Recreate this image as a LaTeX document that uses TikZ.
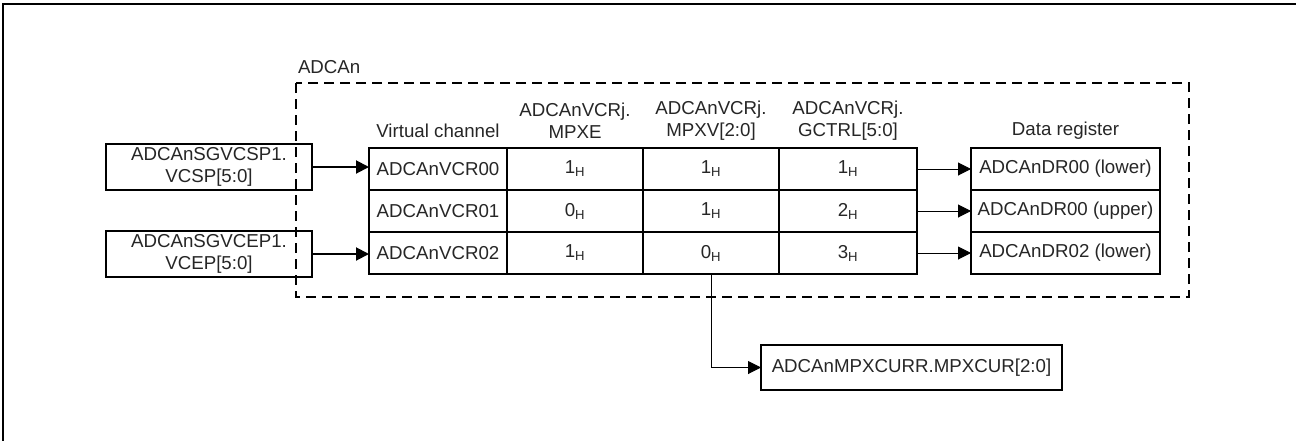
\documentclass[tikz,border=0pt]{standalone}
\usepackage{fontspec}
\setmainfont{Liberation Sans}
\usetikzlibrary{arrows.meta,calc}
\tikzset{
  every node/.style={font=\fontsize{18.7}{22}\selectfont, text=black!85, inner sep=0pt, outer sep=0pt},
  cell/.style={draw=black, line width=2pt, minimum height=42pt, align=center},
  srcbox/.style={draw=black, line width=2pt, minimum width=206pt, minimum height=46pt, align=center},
  hdr/.style={align=center},
  thinarrow/.style={line width=1pt, -{Triangle[length=13pt,width=13pt]}},
  thickarrow/.style={line width=2pt, -{Triangle[length=13pt,width=13pt]}},
  dashbox/.style={line width=2pt, dash pattern=on 10pt off 6pt},
}
\begin{document}
\begin{tikzpicture}[x=1pt,y=-1pt]
\useasboundingbox (0,0) rectangle (1296,440);
% outer frame (top and left edges)
\draw[line width=2.5pt] (3,442) -- (3,4) -- (1298,4);
% ADCAn block
\node[anchor=base west] (lbl) at (298,73) {ADCAn};
\draw[dashbox] (296,83) rectangle (1189,297);
% source boxes
\node[srcbox] (s1) at (209,167) {ADCAnSGVCSP1.\\VCSP[5:0]};
\node[srcbox] (s2) at (209,254) {ADCAnSGVCEP1.\\VCEP[5:0]};
% headers
\node[hdr] (h1) at (438,131) {Virtual channel};
\node[hdr] (h2) at (575,121) {ADCAnVCRj.\\MPXE};
\node[hdr] (h3) at (711,121) {ADCAnVCRj.\\MPXV[2:0]};
\node[hdr] (h4) at (848,121) {ADCAnVCRj.\\GCTRL[5:0]};
\node[hdr] (h5) at (1065.5,131) {Data register};
% table
\foreach \r/\y in {0/169,1/211,2/253}{
  \node[cell, minimum width=138pt] (v\r) at (438,\y) {};
  \node[cell, minimum width=136pt] (e\r) at (575,\y) {};
  \node[cell, minimum width=136pt] (p\r) at (711,\y) {};
  \node[cell, minimum width=138pt] (g\r) at (848,\y) {};
  \node[cell, minimum width=189pt] (d\r) at (1065.5,\y) {};
}
\node at (v0) {ADCAnVCR00};
\node at (v1) {ADCAnVCR01};
\node at (v2) {ADCAnVCR02};
\node at (e0) {1\textsubscript{H}};
\node at (e1) {0\textsubscript{H}};
\node at (e2) {1\textsubscript{H}};
\node at (p0) {1\textsubscript{H}};
\node at (p1) {1\textsubscript{H}};
\node at (p2) {0\textsubscript{H}};
\node at (g0) {1\textsubscript{H}};
\node at (g1) {2\textsubscript{H}};
\node at (g2) {3\textsubscript{H}};
\node at (d0) {ADCAnDR00 (lower)};
\node at (d1) {ADCAnDR00 (upper)};
\node at (d2) {ADCAnDR02 (lower)};
% MPX current box
\node[draw=black, line width=2pt, minimum width=301pt, minimum height=45pt] (m) at (911.5,367.5) {ADCAnMPXCURR.MPXCUR[2:0]};
% connectors
\draw[thickarrow] (s1.east) -- (s1.east -| v0.west);
\draw[thickarrow] (s2.east) -- (s2.east -| v2.west);
\foreach \r in {0,1,2}{
  \draw[thinarrow] (g\r.east) -- (d\r.west);
}
\draw[thinarrow] (p2.south) |- (m.west);
\end{tikzpicture}
\end{document}
